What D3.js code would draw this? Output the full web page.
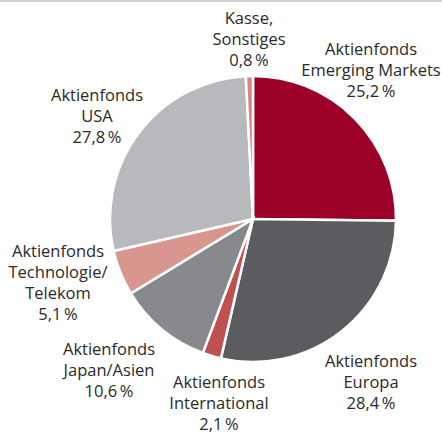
<!DOCTYPE html>
<html>
<head>
<meta charset="utf-8">
<script src="https://cdn.jsdelivr.net/npm/d3@7"></script>
<style>
  body { margin: 0; background: #fff; }
  svg { display: block; }
</style>
</head>
<body>
<div id="chart-area"></div>
<script>
// Anteile, im Uhrzeigersinn ab 12 Uhr
const names = ['Emerging Markets', 'Europa', 'International', 'Japan/Asien', 'Technologie/Telekom', 'USA', 'Kasse']
const shares = [25.2, 28.4, 2.1, 10.6, 5.1, 27.8, 0.8]
const colors = ['#9c0029', '#5b5c60', '#bf5151', '#88898d', '#d9968f', '#b8b9bd', '#d4857e']
const labelLines = [
  ['Aktienfonds', 'Emerging Markets'],
  ['Aktienfonds', 'Europa'],
  ['Aktienfonds', 'International'],
  ['Aktienfonds', 'Japan/Asien'],
  ['Aktienfonds', 'Technologie/', 'Telekom'],
  ['Aktienfonds', 'USA'],
  ['Kasse,', 'Sonstiges']
]
// label anchor (centre x, first baseline)
const labelPos = [[371, 55], [371, 367], [219, 388], [109, 355], [58, 257], [97, 101], [249, 24]]

const WIDTH = 442, HEIGHT = 434
const CX = 253, CY = 219, R = 143
const LINE = 21

const fmt = v => d3.format('.1f')(v).replace('.', ',') + '\u2009%'

const svg = d3.select('#chart-area').append('svg')
    .attr('width', WIDTH)
    .attr('height', HEIGHT)

// top rule
svg.append('rect')
    .attr('x', 0).attr('y', 0)
    .attr('width', WIDTH).attr('height', 2)
    .attr('fill', '#d2d2d2')

const pie = d3.pie().sort(null).value(d => d)
const arc = d3.arc().innerRadius(0).outerRadius(R)

const g = svg.append('g')
    .attr('transform', `translate(${CX}, ${CY})`)

g.selectAll('path')
    .data(pie(shares))
    .enter().append('path')
    .attr('d', arc)
    .attr('fill', (d, i) => colors[i])
    .attr('stroke', '#fff')
    .attr('stroke-width', 2.5)
    .attr('stroke-linejoin', 'miter')

// labels
const labels = svg.selectAll('text.lbl')
    .data(shares)
    .enter().append('text')
    .attr('class', 'lbl')
    .attr('text-anchor', 'middle')
    .attr('font-family', '"Open Sans", sans-serif')
    .attr('font-size', '16.5px')
    .attr('fill', '#2a2a2a')

labels.each(function(d, i) {
  const t = d3.select(this)
  const lines = labelLines[i].concat([fmt(d)])
  lines.forEach((s, k) => {
    t.append('tspan')
        .attr('x', labelPos[i][0])
        .attr('y', labelPos[i][1] + k * LINE)
        .text(s)
  })
})
</script>
</body>
</html>
